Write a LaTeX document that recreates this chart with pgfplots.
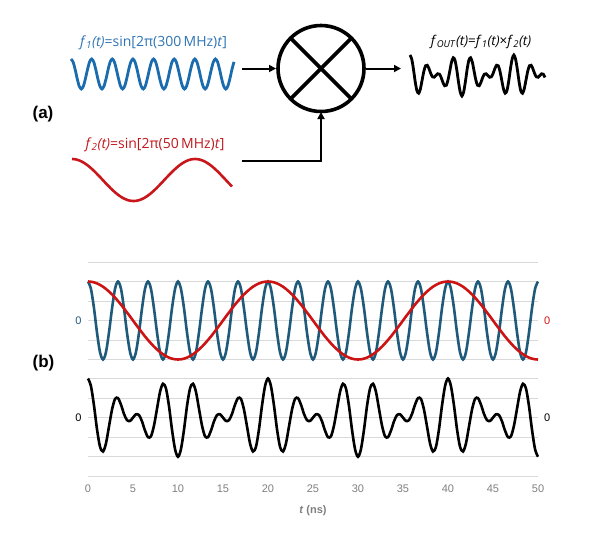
\documentclass[border=0pt]{standalone}
\usepackage{pgfplots}
\pgfplotsset{compat=1.18}
\usepackage{pgfplotstable}
\usepackage{fontspec}
\setmainfont{Liberation Sans}
\newfontfamily\labfont{Open Sans}
\usetikzlibrary{arrows.meta}
\definecolor{bdark}{HTML}{1F5A7A}
\definecolor{rdark}{HTML}{CC1414}
\definecolor{bbright}{HTML}{1B6CAE}
\definecolor{rbright}{HTML}{C8161A}
\definecolor{btext}{HTML}{2E74B5}
\definecolor{rtext}{HTML}{C0171D}
\definecolor{gridc}{HTML}{D9D9D9}
\definecolor{tickc}{HTML}{7F7F7F}

\pgfplotstableread{
t f1 f2 fo
0 1 1 1
0.33 0.809 0.9945 0.8046
0.67 0.309 0.9781 0.3022
1 -0.309 0.9511 -0.2939
1.33 -0.809 0.9135 -0.739
1.67 -1 0.866 -0.866
2 -0.809 0.809 -0.6545
2.33 -0.309 0.7431 -0.2296
2.67 0.309 0.6691 0.2068
3 0.809 0.5878 0.4755
3.33 1 0.5 0.5
3.67 0.809 0.4067 0.329
4 0.309 0.309 0.0955
4.33 -0.309 0.2079 -0.0642
4.67 -0.809 0.1045 -0.0845
5 -1 0 0
5.33 -0.809 -0.1045 0.0845
5.67 -0.309 -0.2079 0.0642
6 0.309 -0.309 -0.0955
6.33 0.809 -0.4067 -0.329
6.67 1 -0.5 -0.5
7 0.809 -0.5878 -0.4755
7.33 0.309 -0.6691 -0.2068
7.67 -0.309 -0.7431 0.2296
8 -0.809 -0.809 0.6545
8.33 -1 -0.866 0.866
8.67 -0.809 -0.9135 0.739
9 -0.309 -0.9511 0.2939
9.33 0.309 -0.9781 -0.3022
9.67 0.809 -0.9945 -0.8046
10 1 -1 -1
10.33 0.809 -0.9945 -0.8046
10.67 0.309 -0.9781 -0.3022
11 -0.309 -0.9511 0.2939
11.33 -0.809 -0.9135 0.739
11.67 -1 -0.866 0.866
12 -0.809 -0.809 0.6545
12.33 -0.309 -0.7431 0.2296
12.67 0.309 -0.6691 -0.2068
13 0.809 -0.5878 -0.4755
13.33 1 -0.5 -0.5
13.67 0.809 -0.4067 -0.329
14 0.309 -0.309 -0.0955
14.33 -0.309 -0.2079 0.0642
14.67 -0.809 -0.1045 0.0845
15 -1 0 0
15.33 -0.809 0.1045 -0.0845
15.67 -0.309 0.2079 -0.0642
16 0.309 0.309 0.0955
16.33 0.809 0.4067 0.329
16.67 1 0.5 0.5
17 0.809 0.5878 0.4755
17.33 0.309 0.6691 0.2068
17.67 -0.309 0.7431 -0.2296
18 -0.809 0.809 -0.6545
18.33 -1 0.866 -0.866
18.67 -0.809 0.9135 -0.739
19 -0.309 0.9511 -0.2939
19.33 0.309 0.9781 0.3022
19.67 0.809 0.9945 0.8046
20 1 1 1
20.33 0.809 0.9945 0.8046
20.67 0.309 0.9781 0.3022
21 -0.309 0.9511 -0.2939
21.33 -0.809 0.9135 -0.739
21.67 -1 0.866 -0.866
22 -0.809 0.809 -0.6545
22.33 -0.309 0.7431 -0.2296
22.67 0.309 0.6691 0.2068
23 0.809 0.5878 0.4755
23.33 1 0.5 0.5
23.67 0.809 0.4067 0.329
24 0.309 0.309 0.0955
24.33 -0.309 0.2079 -0.0642
24.67 -0.809 0.1045 -0.0845
25 -1 0 0
25.33 -0.809 -0.1045 0.0845
25.67 -0.309 -0.2079 0.0642
26 0.309 -0.309 -0.0955
26.33 0.809 -0.4067 -0.329
26.67 1 -0.5 -0.5
27 0.809 -0.5878 -0.4755
27.33 0.309 -0.6691 -0.2068
27.67 -0.309 -0.7431 0.2296
28 -0.809 -0.809 0.6545
28.33 -1 -0.866 0.866
28.67 -0.809 -0.9135 0.739
29 -0.309 -0.9511 0.2939
29.33 0.309 -0.9781 -0.3022
29.67 0.809 -0.9945 -0.8046
30 1 -1 -1
30.33 0.809 -0.9945 -0.8046
30.67 0.309 -0.9781 -0.3022
31 -0.309 -0.9511 0.2939
31.33 -0.809 -0.9135 0.739
31.67 -1 -0.866 0.866
32 -0.809 -0.809 0.6545
32.33 -0.309 -0.7431 0.2296
32.67 0.309 -0.6691 -0.2068
33 0.809 -0.5878 -0.4755
33.33 1 -0.5 -0.5
33.67 0.809 -0.4067 -0.329
34 0.309 -0.309 -0.0955
34.33 -0.309 -0.2079 0.0642
34.67 -0.809 -0.1045 0.0845
35 -1 0 0
35.33 -0.809 0.1045 -0.0845
35.67 -0.309 0.2079 -0.0642
36 0.309 0.309 0.0955
36.33 0.809 0.4067 0.329
36.67 1 0.5 0.5
37 0.809 0.5878 0.4755
37.33 0.309 0.6691 0.2068
37.67 -0.309 0.7431 -0.2296
38 -0.809 0.809 -0.6545
38.33 -1 0.866 -0.866
38.67 -0.809 0.9135 -0.739
39 -0.309 0.9511 -0.2939
39.33 0.309 0.9781 0.3022
39.67 0.809 0.9945 0.8046
40 1 1 1
40.33 0.809 0.9945 0.8046
40.67 0.309 0.9781 0.3022
41 -0.309 0.9511 -0.2939
41.33 -0.809 0.9135 -0.739
41.67 -1 0.866 -0.866
42 -0.809 0.809 -0.6545
42.33 -0.309 0.7431 -0.2296
42.67 0.309 0.6691 0.2068
43 0.809 0.5878 0.4755
43.33 1 0.5 0.5
43.67 0.809 0.4067 0.329
44 0.309 0.309 0.0955
44.33 -0.309 0.2079 -0.0642
44.67 -0.809 0.1045 -0.0845
45 -1 0 0
45.33 -0.809 -0.1045 0.0845
45.67 -0.309 -0.2079 0.0642
46 0.309 -0.309 -0.0955
46.33 0.809 -0.4067 -0.329
46.67 1 -0.5 -0.5
47 0.809 -0.5878 -0.4755
47.33 0.309 -0.6691 -0.2068
47.67 -0.309 -0.7431 0.2296
48 -0.809 -0.809 0.6545
48.33 -1 -0.866 0.866
48.67 -0.809 -0.9135 0.739
49 -0.309 -0.9511 0.2939
49.33 0.309 -0.9781 -0.3022
49.67 0.809 -0.9945 -0.8046
50 1 -1 -1
}\sig

\begin{document}
\begin{tikzpicture}
\useasboundingbox (0,0) rectangle (616pt,-542pt);

% ---------- (a) ----------
\node[font=\bfseries\fontsize{17}{20}\selectfont] at (43pt,-114pt) {(a)};
\node[text=btext, font=\labfont\fontsize{14}{16}\selectfont] at (153.5pt,-43pt)
  {\textit{f}\textsubscript{\textit{1}}\textit{(t)}=sin[2π(300\,MHz)\textit{t}]};
\node[text=rtext, font=\labfont\fontsize{14}{16}\selectfont] at (155pt,-145pt)
  {\textit{f}\textsubscript{\textit{2}}\textit{(t)}=sin[2π(50\,MHz)\textit{t}]};
\node[font=\labfont\fontsize{13.5}{16}\selectfont] at (481pt,-42pt)
  {\textit{f}\textsubscript{\textit{OUT}}\textit{(t)}=\textit{f}\textsubscript{\textit{1}}\textit{(t)}×\textit{f}\textsubscript{\textit{2}}\textit{(t)}};

\draw[line width=3.6pt] (321pt,-68.5pt) circle (43pt);
\draw[line width=3.6pt] (290.6pt,-38.1pt) -- (351.4pt,-98.9pt);
\draw[line width=3.6pt] (290.6pt,-98.9pt) -- (351.4pt,-38.1pt);
\draw[line width=2pt, -{Triangle[length=7pt,width=7pt]}] (242pt,-68.5pt) -- (276pt,-68.5pt);
\draw[line width=2pt, -{Triangle[length=7pt,width=7pt]}] (366pt,-68.5pt) -- (401pt,-68.5pt);
\draw[line width=2pt, -{Triangle[length=7pt,width=7pt]}] (242pt,-161pt) -- (321pt,-161pt) -- (321pt,-112pt);

\begin{axis}[at={(71pt,-89pt)}, anchor=south west, scale only axis, hide axis,
  width=163pt, height=30pt, xmin=0, xmax=26.33, ymin=-1, ymax=1, clip=false]
\addplot[bbright, line width=2.8pt, smooth, restrict x to domain=0:26.4] table[x=t,y=f1]{\sig};
\end{axis}
\begin{axis}[at={(72pt,-201pt)}, anchor=south west, scale only axis, hide axis,
  width=160pt, height=42pt, xmin=0, xmax=26, ymin=-1, ymax=1, clip=false]
\addplot[rbright, line width=2.6pt, smooth, restrict x to domain=0:26.01] table[x=t,y=f2]{\sig};
\end{axis}
\begin{axis}[at={(410pt,-96pt)}, anchor=south west, scale only axis, hide axis,
  width=135pt, height=41pt, xmin=0, xmax=26, ymin=-1, ymax=1, clip=false]
\addplot[black, line width=2.8pt, smooth, restrict x to domain=0:26.01] table[x=t,y=fo]{\sig};
\end{axis}

% ---------- (b) ----------
\node[font=\bfseries\fontsize{17}{20}\selectfont] at (43.5pt,-363pt) {(b)};

\begin{axis}[at={(88pt,-359.5pt)}, anchor=south west, scale only axis,
  width=450pt, height=97.5pt, xmin=0, xmax=50, ymin=-1, ymax=1.5,
  ytick={-1,-0.5,0,0.5,1,1.5}, yticklabels={,,0,,,}, xtick=\empty,
  ymajorgrids, grid style={gridc, line width=0.8pt},
  axis line style={draw=none}, major tick length=0pt,
  /pgf/number format/assume math mode=true,
  yticklabel style={font=\fontsize{11}{12}\selectfont, text=bdark, xshift=-3pt},
  clip=false]
\addplot[bdark, line width=2.6pt, smooth] table[x=t,y=f1]{\sig};
\addplot[rdark, line width=2.6pt, smooth] table[x=t,y=f2]{\sig};
\node[anchor=west, inner sep=0pt, text=rdark, font=\fontsize{11}{12}\selectfont] at (axis cs:50,0) [xshift=6pt] {0};
\end{axis}

\begin{axis}[at={(88pt,-476.3pt)}, anchor=south west, scale only axis,
  width=450pt, height=97.8pt, xmin=0, xmax=50, ymin=-1.5, ymax=1,
  ytick={-1.5,-1,-0.5,0,0.5,1}, yticklabels={,,,0,,}, xtick={0,5,...,50},
  ymajorgrids, grid style={gridc, line width=0.8pt},
  axis line style={draw=none}, major tick length=0pt,
  /pgf/number format/assume math mode=true,
  yticklabel style={font=\fontsize{11}{12}\selectfont, text=black, xshift=-3pt},
  xticklabel style={font=\fontsize{11}{12}\selectfont, text=tickc, anchor=base, yshift=-16pt},
  clip=false]
\addplot[black, line width=2.6pt, smooth] table[x=t,y=fo]{\sig};
\node[anchor=west, inner sep=0pt, font=\fontsize{11}{12}\selectfont] at (axis cs:50,0) [xshift=6pt] {0};
\node[text=tickc, font=\bfseries\fontsize{11}{12}\selectfont] at (rel axis cs:0.5,0) [yshift=-34pt] {\textit{t} (ns)};
\end{axis}
\end{tikzpicture}
\end{document}
